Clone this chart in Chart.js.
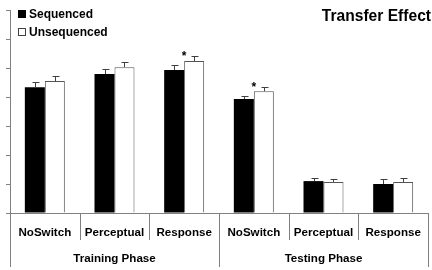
<!DOCTYPE html>
<html>
<head>
<meta charset="utf-8">
<script src="https://cdn.jsdelivr.net/npm/chart.js@4"></script>
<style>
  html, body { margin: 0; padding: 0; background: #fff; }
  canvas { display: block; }
</style>
</head>
<body>
<canvas id="myChart" width="432" height="270"></canvas>
<script>
// chart values
let conditions = ['NoSwitch', 'Perceptual', 'Response', 'NoSwitch', 'Perceptual', 'Response'];
let phases = ['Training Phase', 'Testing Phase'];
let sequenced = [4.34, 4.79, 4.93, 3.93, 1.10, 1.00];
let unsequenced = [4.55, 5.03, 5.24, 4.20, 1.07, 1.07];
let sequencedErr = [0.17, 0.17, 0.17, 0.10, 0.10, 0.17];
let unsequencedErr = [0.17, 0.17, 0.17, 0.14, 0.10, 0.14];
let stars = [false, false, true, true, false, false];
let yMax = 7;

const FONT = 'bold 11.6px "Liberation Sans", Arial, sans-serif';

// error bars, stars, separators, labels, legend and title
let extras = {
  id: 'extras',
  afterDatasetsDraw(chart) {
    const ctx = chart.ctx;
    const x = chart.scales.x;
    const y = chart.scales.y;
    const area = chart.chartArea;
    const catW = (area.right - area.left) / conditions.length;
    ctx.save();

    // error bars (upper only)
    ctx.strokeStyle = '#404040';
    ctx.lineWidth = 1;
    [[0, sequenced, sequencedErr], [1, unsequenced, unsequencedErr]].forEach(([d, vals, errs]) => {
      let meta = chart.getDatasetMeta(d);
      meta.data.forEach((bar, i) => {
        let top = y.getPixelForValue(vals[i] + errs[i]);
        let cx = Math.round(bar.x) + 0.5;
        ctx.beginPath();
        ctx.moveTo(cx, bar.y);
        ctx.lineTo(cx, Math.round(top) + 0.5);
        ctx.moveTo(cx - 3, Math.round(top) + 0.5);
        ctx.lineTo(cx + 4, Math.round(top) + 0.5);
        ctx.stroke();
      });
    });

    // significance stars
    ctx.fillStyle = '#000';
    ctx.font = 'bold 12px "Liberation Sans", Arial, sans-serif';
    ctx.textAlign = 'center';
    ctx.textBaseline = 'alphabetic';
    stars.forEach((s, i) => {
      if (!s) return;
      let top = y.getPixelForValue(unsequenced[i] + unsequencedErr[i]);
      ctx.fillText('*', x.getPixelForValue(i), top + 4);
    });

    // separators under the axis
    ctx.strokeStyle = '#808080';
    for (let i = 0; i <= conditions.length; i++) {
      let px = Math.round(area.left + catW * i) + 0.5;
      let long = i % 3 === 0;
      ctx.beginPath();
      ctx.moveTo(px, area.bottom);
      ctx.lineTo(px, long ? area.bottom + 54 : area.bottom + 27);
      ctx.stroke();
    }

    // category and phase labels
    ctx.font = FONT;
    ctx.textBaseline = 'middle';
    conditions.forEach((c, i) => {
      ctx.fillText(c, x.getPixelForValue(i), area.bottom + 20);
    });
    phases.forEach((p, i) => {
      ctx.fillText(p, area.left + catW * (i * 3 + 1.5), area.bottom + 46);
    });

    // legend
    ctx.textAlign = 'left';
    ctx.font = 'bold 12px "Liberation Sans", Arial, sans-serif';
    ctx.fillStyle = '#000';
    ctx.fillRect(18, 10, 8, 8);
    ctx.fillText('Sequenced', 29, 14.5);
    ctx.strokeStyle = '#404040';
    ctx.strokeRect(18.5, 28.5, 7, 7);
    ctx.fillText('Unsequenced', 29, 32.5);

    // title
    ctx.textAlign = 'right';
    ctx.font = 'bold 15.6px "Liberation Sans", Arial, sans-serif';
    ctx.fillText('Transfer Effect', 431, 16.5);

    ctx.restore();
  }
};

let options = {
  type: 'bar',
  data: {
    labels: conditions,
    datasets: [
      {
        label: 'Sequenced',
        data: sequenced,
        backgroundColor: '#000000',
        borderWidth: 0,
        categoryPercentage: 0.574,
        barPercentage: 1.0
      },
      {
        label: 'Unsequenced',
        data: unsequenced,
        backgroundColor: '#ffffff',
        borderColor: '#555555',
        borderWidth: 1,
        categoryPercentage: 0.574,
        barPercentage: 1.0
      }
    ]
  },
  options: {
    responsive: false,
    animation: false,
    devicePixelRatio: 1,
    layout: { padding: { left: 6, right: 4, top: 10, bottom: 49 } },
    plugins: {
      legend: { display: false },
      title: { display: false },
      tooltip: { enabled: false }
    },
    scales: {
      x: {
        grid: { display: false },
        ticks: { display: false },
        border: { display: true, color: '#808080', width: 1 }
      },
      y: {
        min: 0,
        max: yMax,
        ticks: { display: false, stepSize: 1 },
        grid: { drawOnChartArea: false, drawTicks: true, tickLength: 4, color: '#808080' },
        border: { display: true, color: '#808080', width: 1 }
      }
    }
  },
  plugins: [extras]
};

const ctx = document.getElementById('myChart').getContext('2d');
const myChart = new Chart(ctx, options);
</script>
</body>
</html>
